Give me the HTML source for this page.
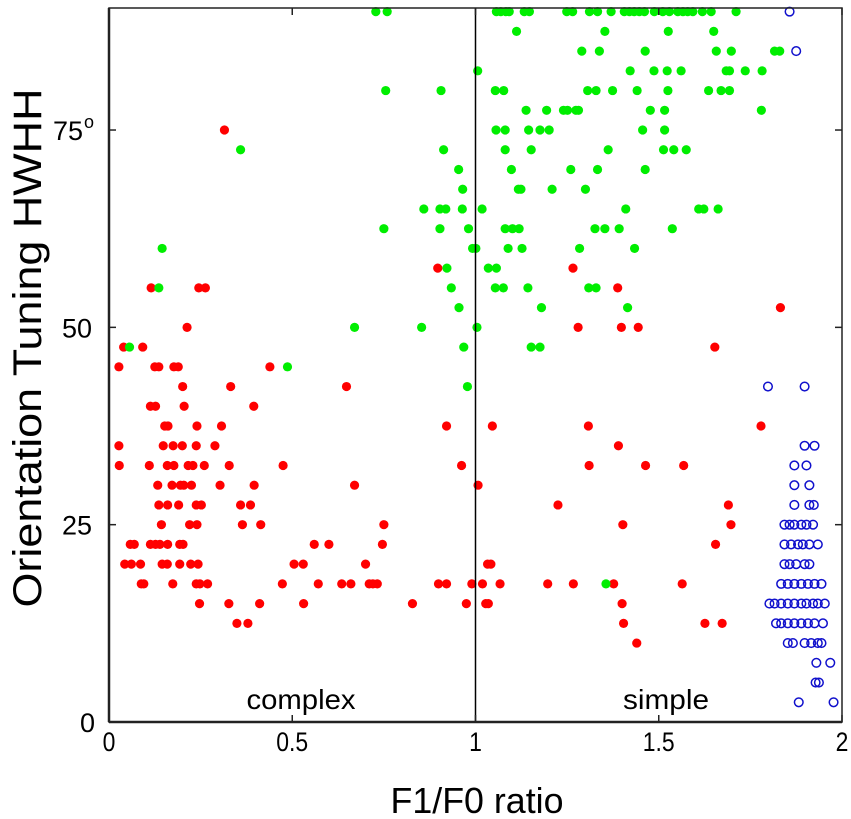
<!DOCTYPE html>
<html><head><meta charset="utf-8"><style>
html,body{margin:0;padding:0;background:#fff;}
svg{display:block;font-family:"Liberation Sans",Arial,sans-serif;}
</style></head><body>
<svg id="chart" width="851" height="819" viewBox="0 0 851 819" xmlns="http://www.w3.org/2000/svg">
<g id="marks"></g>
<g id="axes"></g>
</svg>
<script>
const xTicks=[0,0.5,1,1.5,2];
const xTickLabels=["0","0.5","1","1.5","2"];
const yTicks=[0,25,50,75];
const yTickLabels=["0","25","50","75"];
// complex-like cells (red)
const redX=[0.315,0.115,0.245,0.263,0.213,0.04,0.092,0.027,0.125,0.136,0.177,0.189,0.439,0.201,0.332,0.648,0.113,0.127,0.205,0.395,0.152,0.161,0.24,0.307,0.027,0.148,0.175,0.2,0.238,0.289,0.028,0.11,0.159,0.177,0.216,0.229,0.26,0.328,0.475,0.133,0.172,0.195,0.204,0.225,0.303,0.396,0.67,0.136,0.16,0.19,0.238,0.252,0.359,0.386,0.143,0.22,0.24,0.364,0.414,0.75,0.058,0.069,0.113,0.127,0.139,0.16,0.193,0.202,0.56,0.6,0.746,0.043,0.061,0.086,0.145,0.159,0.193,0.223,0.243,0.505,0.53,0.7,0.088,0.095,0.174,0.238,0.248,0.269,0.473,0.571,0.635,0.66,0.71,0.72,0.732,0.247,0.327,0.411,0.531,0.828,0.349,0.379,0.897,1.266,1.388,1.832,1.28,1.398,1.444,1.653,0.921,1.046,1.308,1.779,1.39,0.962,1.31,1.464,1.568,1.007,1.225,1.69,1.402,1.697,1.655,1.033,1.042,0.899,0.921,0.99,1.019,1.067,1.197,1.267,1.377,1.564,0.975,1.028,1.035,1.4,1.404,1.626,1.673,1.44];
const redY=[75,55,55,55,50,47.5,47.5,45,45,45,45,45,45,42.5,42.5,42.5,40,40,40,40,37.5,37.5,37.5,37.5,35,35,35,35,35,35,32.5,32.5,32.5,32.5,32.5,32.5,32.5,32.5,32.5,30,30,30,30,30,30,30,30,27.5,27.5,27.5,27.5,27.5,27.5,27.5,25,25,25,25,25,25,22.5,22.5,22.5,22.5,22.5,22.5,22.5,22.5,22.5,22.5,22.5,20,20,20,20,20,20,20,20,20,20,20,17.5,17.5,17.5,17.5,17.5,17.5,17.5,17.5,17.5,17.5,17.5,17.5,17.5,15,15,15,15,15,12.5,12.5,57.5,57.5,55,52.5,50,50,50,47.5,37.5,37.5,37.5,37.5,35,32.5,32.5,32.5,32.5,30,27.5,27.5,25,25,22.5,20,20,17.5,17.5,17.5,17.5,17.5,17.5,17.5,17.5,17.5,15,15,15,15,12.5,12.5,12.5,10];
// green cells
const greenX=[0.359,0.145,0.136,0.056,0.487,0.67,0.853,0.728,0.759,1.057,1.069,1.083,1.092,1.133,1.147,1.249,1.265,1.311,1.333,1.37,1.406,1.42,1.433,1.447,1.461,1.488,1.511,1.529,1.552,1.566,1.579,1.593,1.619,1.643,1.711,1.112,1.353,1.526,1.65,1.29,1.338,1.463,1.657,1.698,1.816,1.83,1.006,1.422,1.487,1.523,1.561,1.684,1.693,1.736,1.782,0.755,0.906,1.054,1.077,1.306,1.329,1.374,1.441,1.525,1.636,1.67,1.693,1.138,1.194,1.24,1.251,1.274,1.281,1.477,1.516,1.78,1.056,1.081,1.145,1.176,1.201,1.456,1.516,0.913,1.081,1.152,1.362,1.513,1.541,1.575,0.954,1.098,1.26,1.333,1.463,0.965,1.117,1.124,1.209,1.3,0.859,0.903,0.919,0.964,1.018,1.41,1.609,1.623,1.662,0.75,0.903,0.981,1.081,1.101,1.119,1.326,1.353,1.392,1.537,0.992,1.001,1.089,1.127,1.284,1.434,0.922,1.035,1.057,0.934,1.054,1.076,1.143,1.309,1.329,0.955,1.18,1.415,1.004,0.968,1.152,1.176,0.978,1.356];
const greenY=[72.5,60,55,47.5,45,50,50,90,90,90,90,90,90,90,90,90,90,90,90,90,90,90,90,90,90,90,90,90,90,90,90,90,90,90,90,87.5,87.5,87.5,87.5,85,85,85,85,85,85,85,82.5,82.5,82.5,82.5,82.5,82.5,82.5,82.5,82.5,80,80,80,80,80,80,80,80,80,80,80,80,77.5,77.5,77.5,77.5,77.5,77.5,77.5,77.5,77.5,75,75,75,75,75,75,75,72.5,72.5,72.5,72.5,72.5,72.5,72.5,70,70,70,70,70,67.5,67.5,67.5,67.5,67.5,65,65,65,65,65,65,65,65,65,62.5,62.5,62.5,62.5,62.5,62.5,62.5,62.5,62.5,62.5,60,60,60,60,60,60,57.5,57.5,57.5,55,55,55,55,55,55,52.5,52.5,52.5,50,47.5,47.5,47.5,42.5,17.5];
// blue open circles
const blueX=[1.857,1.875,1.798,1.898,1.898,1.925,1.87,1.903,1.87,1.911,1.87,1.911,1.923,1.843,1.857,1.87,1.889,1.903,1.921,1.843,1.861,1.88,1.893,1.911,1.934,1.843,1.857,1.875,1.898,1.911,1.834,1.852,1.87,1.889,1.907,1.925,1.944,1.802,1.816,1.834,1.852,1.87,1.889,1.903,1.921,1.934,1.953,1.82,1.834,1.852,1.87,1.889,1.907,1.925,1.948,1.852,1.866,1.898,1.916,1.934,1.944,1.93,1.968,1.928,1.937,1.882,1.977];
const blueY=[90,85,42.5,42.5,35,35,32.5,32.5,30,30,27.5,27.5,27.5,25,25,25,25,25,25,22.5,22.5,22.5,22.5,22.5,22.5,20,20,20,20,20,17.5,17.5,17.5,17.5,17.5,17.5,17.5,15,15,15,15,15,15,15,15,15,15,12.5,12.5,12.5,12.5,12.5,12.5,12.5,12.5,10,10,10,10,10,10,7.5,7.5,5,5,2.5,2.5];

const L=109,R=842,T=8,B=722,YMAX=90.46;
const xs=v=>L+(v-0)/(2-0)*(R-L);
const ys=v=>B-(v-0)/(YMAX-0)*(B-T);
const NS='http://www.w3.org/2000/svg';
const marks=document.getElementById('marks');
const axes=document.getElementById('axes');
function mk(tag,parent){const e=document.createElementNS(NS,tag);parent.appendChild(e);return e;}

const dv=mk('line',axes);


dv.setAttribute('x1',xs(1));dv.setAttribute('x2',xs(1));dv.setAttribute('y1',T);dv.setAttribute('y2',B);
dv.setAttribute('stroke','#000');dv.setAttribute('stroke-width','1.5');

for(let i=0;i<redX.length;i++){
  const c=mk('circle',marks);
  
  
  c.setAttribute('cx',xs(redX[i]));c.setAttribute('cy',ys(redY[i]));c.setAttribute('r',4.6);c.setAttribute('fill','#ff0000');
}
for(let i=0;i<greenX.length;i++){
  const c=mk('circle',marks);
  
  
  c.setAttribute('cx',xs(greenX[i]));c.setAttribute('cy',ys(greenY[i]));c.setAttribute('r',4.6);c.setAttribute('fill','#00ee00');
}
for(let i=0;i<blueX.length;i++){
  const c=mk('circle',marks);
  
  
  c.setAttribute('cx',xs(blueX[i]));c.setAttribute('cy',ys(blueY[i]));c.setAttribute('r',4.3);c.setAttribute('fill','none');c.setAttribute('stroke','#1010cc');c.setAttribute('stroke-width','1.5');
}

const fr=mk('rect',axes);


fr.setAttribute('x',L);fr.setAttribute('y',T);fr.setAttribute('width',R-L);fr.setAttribute('height',B-T);
fr.setAttribute('fill','none');fr.setAttribute('stroke','#222');fr.setAttribute('stroke-width','1.5');
const bl=mk('line',axes);


bl.setAttribute('x1',L);bl.setAttribute('x2',R);bl.setAttribute('y1',B);bl.setAttribute('y2',B);bl.setAttribute('stroke','#222');bl.setAttribute('stroke-width','2.5');
const ll=mk('line',axes);


ll.setAttribute('x1',L);ll.setAttribute('x2',L);ll.setAttribute('y1',T);ll.setAttribute('y2',B);ll.setAttribute('stroke','#222');ll.setAttribute('stroke-width','2.5');

xTicks.forEach((v,i)=>{
  [[B,B-7],[T,T+7]].forEach(p=>{
    const t=mk('line',axes);
    
    
    t.setAttribute('x1',xs(v));t.setAttribute('x2',xs(v));t.setAttribute('y1',p[0]);t.setAttribute('y2',p[1]);t.setAttribute('stroke','#222');t.setAttribute('stroke-width','1.5');
  });
  const tx=mk('text',axes);
  
  
  tx.setAttribute('x',xs(v));tx.setAttribute('y',751);tx.setAttribute('text-anchor','middle');tx.setAttribute('font-size','27');
  tx.setAttribute('transform','translate('+xs(v)+',0) scale(0.85,1) translate('+(-xs(v))+',0)');
  tx.textContent=xTickLabels[i];
});
yTicks.forEach((v,i)=>{
  [[L,L+7],[R,R-7]].forEach(p=>{
    const t=mk('line',axes);
    
    
    t.setAttribute('x1',p[0]);t.setAttribute('x2',p[1]);t.setAttribute('y1',ys(v));t.setAttribute('y2',ys(v));t.setAttribute('stroke','#222');t.setAttribute('stroke-width','1.5');
  });
  const tx=mk('text',axes);
  
  
  tx.setAttribute('x',v===0?95:(v===75?83:92));tx.setAttribute('y',ys(v)+10);tx.setAttribute('text-anchor','end');tx.setAttribute('font-size','27');
  tx.textContent=yTickLabels[i];
});
const deg=mk('text',axes);


deg.setAttribute('x',84);deg.setAttribute('y',ys(75)-2);deg.setAttribute('font-size','18');deg.textContent='o';

function label(txt,x,y,size,len,name,rot){
  const t=mk('text',axes);
  
  
  t.setAttribute('x',x);t.setAttribute('y',y);t.setAttribute('text-anchor','middle');t.setAttribute('font-size',size);
  t.setAttribute('textLength',len);t.setAttribute('lengthAdjust','spacingAndGlyphs');
  if(rot)t.setAttribute('transform','rotate(-90 '+x+' '+y+')');
  t.textContent=txt;return t;
}
label('complex',301,709,28,109,'complex-label');
label('simple',666,709,28,86,'simple-label');
label('F1/F0 ratio',477,813,36,173,'x-axis-title');
label('Orientation Tuning HWHH',41,348,40,519,'y-axis-title',true);
</script>
</body></html>
